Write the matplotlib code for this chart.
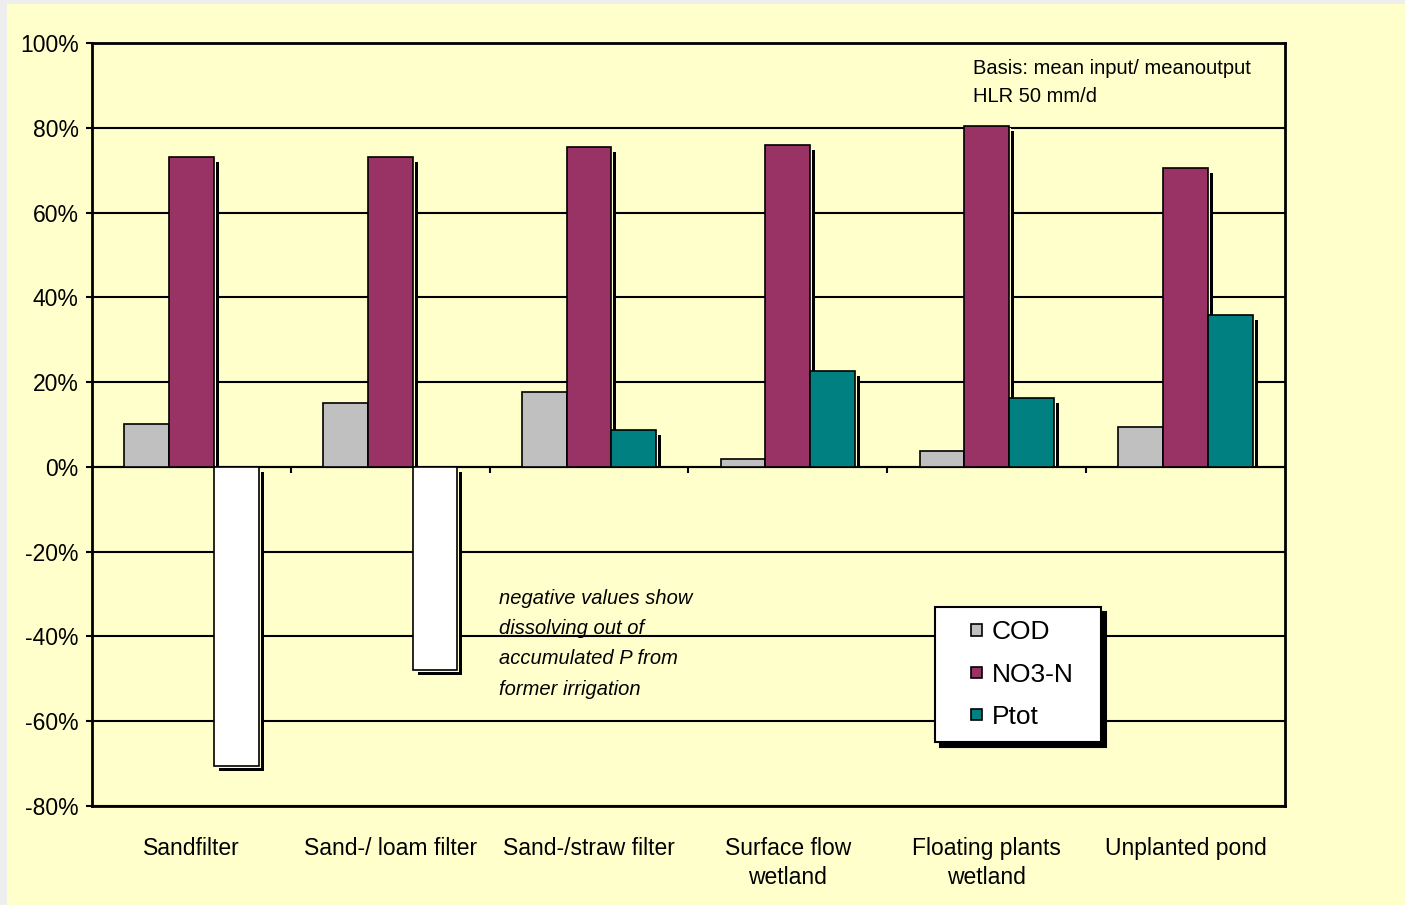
import numpy as np
import matplotlib.pyplot as plt
from matplotlib.patches import Patch, Rectangle
from matplotlib.legend_handler import HandlerPatch

plt.rcParams['font.family'] = ['Liberation Sans', 'DejaVu Sans']

# removal efficiency (%) per treatment system
systems = ['Sandfilter', 'Sand-/ loam filter', 'Sand-/straw filter',
           'Surface flow\nwetland', 'Floating plants\nwetland', 'Unplanted pond']
cod = [10.1, 15.1, 17.7, 1.9, 3.8, 9.4]
no3_n = [73.1, 73.1, 75.5, 76.0, 80.4, 70.5]
ptot = [-70.5, -47.9, 8.7, 22.6, 16.3, 35.9]

series = ['COD', 'NO3-N', 'Ptot']
colors = ['#C0C0C0', '#993366', '#008080']
bg = '#FFFFCC'

fig = plt.figure(figsize=(14.05, 9.05), dpi=100, facecolor=bg)
# checkered border strip along top and left edge
fig.patches.append(Rectangle((0, 1 - 4 / 905), 1, 4 / 905, transform=fig.transFigure,
                             facecolor='#EEEEEE', edgecolor='none'))
fig.patches.append(Rectangle((0, 0), 7 / 1405, 1, transform=fig.transFigure,
                             facecolor='#EEEEEE', edgecolor='none'))

ax_w, ax_h = 0.849, 0.843
ax = fig.add_axes([0.0655, 0.1094, ax_w, ax_h], facecolor=bg)
ax.set_xlim(-0.5, 5.5)
ax.set_ylim(-80, 100)

# convert pixel offsets to data units
px_x = 6 / (ax_w * 1405)
px_y = 180 / (ax_h * 905)

x = np.arange(len(systems))
w = 0.225

all_vals = [np.array(cod), np.array(no3_n), np.array(ptot)]
for i, vals in enumerate(all_vals):
    pos = x + (i - 1) * w
    # drop shadow, then a thin background gap, then the bar itself
    for off, col, z in [(5, 'black', 2.0), (2, bg, 2.2)]:
        dx, dy = off * px_x, off * px_y
        bottom = np.where(vals < 0, -dy, 0)
        height = np.where(vals < 0, vals, vals - dy)
        ax.bar(pos + dx, height, w, bottom=bottom, color=col, linewidth=0, zorder=z)
    if i == 2:
        fc = ['white' if v < 0 else colors[i] for v in vals]
    else:
        fc = colors[i]
    ax.bar(pos, vals, w, color=fc, edgecolor='black', linewidth=1.2, zorder=3)

# grid and axes
ax.set_yticks(np.arange(-80, 101, 20))
ax.set_yticklabels([f'{v}%' for v in range(-80, 101, 20)])
ax.yaxis.grid(True, color='black', linewidth=1.5, zorder=1)
ax.set_axisbelow(True)
ax.axhline(0, color='black', linewidth=1.5, zorder=2.5)
ax.vlines(np.arange(0.5, 5), -1.4, 0, color='black', linewidth=1.5, zorder=2.5)
for s in ax.spines.values():
    s.set_linewidth(2)
ax.tick_params(axis='y', length=4, width=1.5, pad=5.5, labelsize=16.5)
ax.set_xticks(x)
ax.set_xticklabels(systems, fontsize=16.5, linespacing=1.35)
ax.tick_params(axis='x', length=0, pad=22)

ax.text(3.932, 96.2, 'Basis: mean input/ meanoutput\nHLR 50 mm/d', fontsize=14.5,
        va='top', ha='left', linespacing=1.6)
ax.text(1.547, -28.8, 'negative values show\ndissolving out of\naccumulated P from\nformer irrigation',
        fontsize=14.5, style='italic', va='top', ha='left', linespacing=1.75)


def small_square(legend, orig_handle, xdescent, ydescent, width, height, fontsize):
    s = 0.42 * fontsize
    return Rectangle((-xdescent + width - s, -ydescent + (height - s) / 2), s, s)


handles = [Patch(facecolor=c, edgecolor='black', linewidth=1.2) for c in colors]
leg = ax.legend(handles, series, loc='upper left',
                bbox_to_anchor=(0.7066, 0.0865, 0.1391, 0.1743), mode='expand',
                fontsize=19, fancybox=False, edgecolor='black', facecolor='white',
                framealpha=1, borderpad=0.5, labelspacing=0.7, handlelength=1.3,
                handletextpad=0.35, borderaxespad=0,
                shadow={'ox': 3.5, 'oy': -3.5, 'facecolor': 'black', 'edgecolor': 'black', 'alpha': 1},
                handler_map={Patch: HandlerPatch(patch_func=small_square)})
leg.get_frame().set_linewidth(1.5)

fig.savefig('out.png', dpi=100, facecolor=bg)
